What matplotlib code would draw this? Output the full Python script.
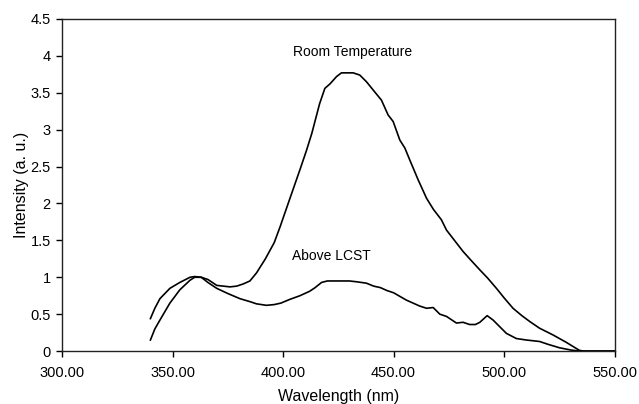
import matplotlib
matplotlib.use("Agg")
import matplotlib.pyplot as plt
from matplotlib.ticker import FuncFormatter
import numpy as np

plt.rcParams['font.family'] = ['Liberation Sans', 'DejaVu Sans']

# Room temperature emission spectrum
rt_wl = [340, 342, 344.3, 348.8, 353.3, 357.9, 360, 363, 366, 370, 373, 376, 379,
         382, 385, 388, 392, 396, 398.6, 403, 408, 410.6, 413, 416.5, 418.9, 421.2,
         424.2, 426.4, 429, 431.7, 434.7, 437.7, 441.5, 444.5, 447.5, 449.8, 452.8,
         455.1, 457.3, 461.1, 464.9, 468, 471.6, 473.9, 477, 481.4, 485, 489, 492.5,
         496.5, 500, 504, 508, 511.6, 516, 522, 528, 534, 536, 550]
rt_int = [0.15, 0.30, 0.42, 0.65, 0.83, 0.96, 1.00, 1.00, 0.97, 0.89, 0.88, 0.87, 0.88,
          0.91, 0.95, 1.06, 1.25, 1.47, 1.68, 2.06, 2.49, 2.72, 2.95, 3.35, 3.56, 3.62,
          3.72, 3.77, 3.77, 3.77, 3.74, 3.65, 3.51, 3.40, 3.20, 3.11, 2.86,
          2.75, 2.59, 2.32, 2.07, 1.92, 1.78, 1.64, 1.52, 1.35, 1.23, 1.10, 0.99,
          0.85, 0.72, 0.58, 0.48, 0.40, 0.31, 0.22, 0.12, 0.01, 0.0, 0.0]

# Above LCST emission spectrum
al_wl = [340, 342, 344.3, 348.8, 353.3, 357.9, 360, 363, 366, 370, 375, 380.5, 385,
         388, 392.5, 396, 399, 403, 407.6, 412, 414.5, 417.4, 420, 425, 430, 433,
         437.7, 441, 444, 447, 450, 455.8, 461.8, 464.9, 467.9, 470.9, 473.9, 478.4,
         481.4, 484.4, 487, 489, 492.3, 495, 498, 501, 505.5, 510, 516, 520, 525,
         530, 534, 550]
al_int = [0.44, 0.58, 0.71, 0.85, 0.93, 1.00, 1.01, 1.00, 0.93, 0.85, 0.78, 0.71, 0.67,
          0.64, 0.62, 0.63, 0.65, 0.70, 0.75, 0.81, 0.86, 0.93, 0.95, 0.95, 0.95, 0.94,
          0.92, 0.88, 0.86, 0.82, 0.79, 0.69, 0.61, 0.58, 0.59, 0.50, 0.47, 0.38,
          0.39, 0.36, 0.36, 0.39, 0.48, 0.42, 0.33, 0.24, 0.17, 0.15, 0.13, 0.09, 0.045,
          0.015, 0.0, 0.0]

x_ticks = [300, 350, 400, 450, 500, 550]
y_ticks = [0, 0.5, 1, 1.5, 2, 2.5, 3, 3.5, 4, 4.5]

fig = plt.figure(figsize=(6.39, 4.04), dpi=100)
ax = fig.add_axes([0.097, 0.131, 0.865, 0.822])

ax.plot(rt_wl, rt_int, color='black', lw=1.2)
ax.plot(al_wl, al_int, color='black', lw=1.2)

ax.text(431.6, 4.05, "Room Temperature", ha='center', va='center', fontsize=10)
ax.text(422, 1.29, "Above LCST", ha='center', va='center', fontsize=10)

ax.set_xlim(300, 550)
ax.set_ylim(0, 4.5)
ax.set_xticks(x_ticks)
ax.set_yticks(y_ticks)
ax.xaxis.set_major_formatter(FuncFormatter(lambda v, p: "%.2f" % v))
ax.yaxis.set_major_formatter(FuncFormatter(lambda v, p: "%g" % v))
ax.tick_params(direction='out', length=4, width=1, labelsize=10.5)
ax.tick_params(axis='x', pad=7)
ax.tick_params(axis='y', pad=4)
for s in ax.spines.values():
    s.set_linewidth(1)
    s.set_color('#222222')

ax.set_xlabel("Wavelength (nm)", fontsize=11.5)
ax.set_ylabel("Intensity (a. u.)", fontsize=11.5)
ax.xaxis.set_label_coords(0.5, -0.115)
ax.yaxis.set_label_coords(-0.06, 0.5)

fig.savefig("out.png", dpi=100)
